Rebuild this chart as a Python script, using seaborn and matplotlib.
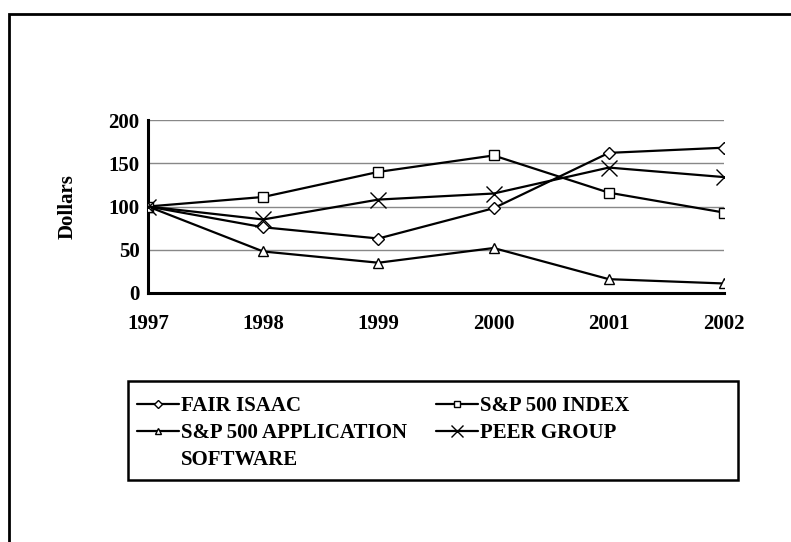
import matplotlib
matplotlib.use("Agg")
import matplotlib.pyplot as plt
from matplotlib.lines import Line2D
from matplotlib.patches import Rectangle
import pandas as pd
import seaborn as sns

# values (indexed, 1997 = 100)
years = [1997, 1998, 1999, 2000, 2001, 2002]
fair_isaac = [100, 76, 63, 98, 162, 168]
sp500_index = [100, 111, 140, 159, 116, 93]
sp500_app_software = [100, 48, 35, 52, 16, 11]
peer_group = [100, 85, 108, 115, 145, 134]

series_names = ["FAIR ISAAC", "S&P 500 INDEX",
                "S&P 500 APPLICATION", "PEER GROUP"]
series_values = [fair_isaac, sp500_index, sp500_app_software, peer_group]
y_ticks = [0, 50, 100, 150, 200]

# style per series: marker, marker size
styles = {
    "FAIR ISAAC": ("D", 6),
    "S&P 500 INDEX": ("s", 7),
    "S&P 500 APPLICATION": ("^", 7),
    "PEER GROUP": ("x", 12),
}

FS = 15

sns.set_style("white")
plt.rcParams["font.family"] = ["Liberation Serif", "DejaVu Serif"]
plt.rcParams["font.weight"] = "bold"
for key in ["text.color", "axes.labelcolor", "xtick.color", "ytick.color"]:
    plt.rcParams[key] = "black"

fig = plt.figure(figsize=(7.91, 5.42), dpi=100)
ax = fig.add_axes([148 / 791, 1 - 293 / 542, 576 / 791, 173 / 542])

for name, vals in zip(series_names, series_values):
    df = pd.DataFrame({"Year": years, "Dollars": vals})
    marker, ms = styles[name]
    sns.lineplot(data=df, x="Year", y="Dollars", ax=ax, color="black",
                 linewidth=1.6, marker=marker, markersize=ms,
                 markerfacecolor="white", markeredgecolor="black",
                 markeredgewidth=1.0, label=name, zorder=3)

ax.set_xlim(1997, 2002)
ax.set_ylim(0, 200)
ax.set_xticks(years)
ax.set_xticklabels([str(y) for y in years], fontsize=FS, fontweight="bold")
ax.set_yticks(y_ticks)
ax.set_yticklabels([str(v) for v in y_ticks], fontsize=FS, fontweight="bold")
ax.yaxis.grid(True, color="#888888", linewidth=1.0)
ax.xaxis.grid(False)
ax.set_axisbelow(True)
ax.set_xlabel("")
ax.set_ylabel("Dollars", fontsize=FS, fontweight="bold", labelpad=22)

for side in ["top", "right"]:
    ax.spines[side].set_visible(False)
for side in ["left", "bottom"]:
    ax.spines[side].set_linewidth(2.2)
    ax.spines[side].set_color("black")
ax.tick_params(axis="both", which="both", direction="out", length=5,
               width=1.5, color="black", pad=1)
ax.tick_params(axis="x", pad=10)

handles, labels = ax.get_legend_handles_labels()
ax.get_legend().remove()
h = dict(zip(labels, handles))
# blank entry carries the second line of the application software label
blank = Line2D([], [], linestyle="none", marker=None)
leg_handles = [h["FAIR ISAAC"], h["S&P 500 APPLICATION"], blank,
               h["S&P 500 INDEX"], h["PEER GROUP"]]
leg_labels = ["FAIR ISAAC", "S&P 500 APPLICATION", "SOFTWARE",
              "S&P 500 INDEX", "PEER GROUP"]
fig.legend(leg_handles, leg_labels, ncol=2, loc="upper left",
           bbox_to_anchor=(128 / 791, 1 - 387 / 542),
           borderaxespad=0, frameon=False, handlelength=2.0,
           handletextpad=0.1, markerscale=0.7,
           prop={"size": FS, "weight": "bold"},
           labelspacing=0.33, borderpad=0.45, columnspacing=1.4)

# legend frame
fig.patches.append(Rectangle((128 / 791, 1 - 480 / 542), 610 / 791, 99 / 542,
                             transform=fig.transFigure, fill=False,
                             edgecolor="black", linewidth=1.8))

# outer frame, cut off by the image at the right and bottom
fig.patches.append(Rectangle((9 / 791, -0.1), 1.2, 1 - 14 / 542 + 0.1,
                             transform=fig.transFigure, fill=False,
                             edgecolor="black", linewidth=2.0))

fig.savefig("out.png", dpi=100)
